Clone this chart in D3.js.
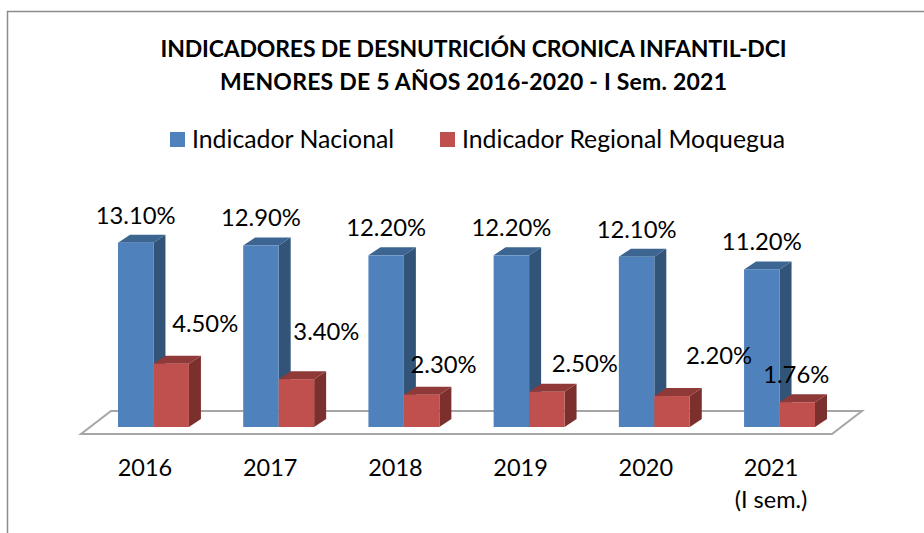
<!DOCTYPE html>
<html>
<head>
<meta charset="utf-8">
<script src="https://cdn.jsdelivr.net/npm/d3@7"></script>
<style>
  html, body { margin: 0; padding: 0; background: #fff; }
  svg { display: block; font-family: Lato, sans-serif; fill: #000; }
</style>
</head>
<body>
<svg id="chart" width="924" height="533"></svg>
<script>
const years = ['2016', '2017', '2018', '2019', '2020', '2021'];
const seriesNames = ['Indicador Nacional', 'Indicador Regional Moquegua'];
const nacional = [13.1, 12.9, 12.2, 12.2, 12.1, 11.2];
const regional = [4.5, 3.4, 2.3, 2.5, 2.2, 1.76];
const titleLines = ['INDICADORES DE DESNUTRICIÓN CRONICA INFANTIL-DCI', 'MENORES DE 5 AÑOS 2016-2020 - I Sem. 2021'];

const w = 924;
const h = 533;
const depth = { x: 12, y: 8 };
const colors = [
  { front: '#4f81bd', side: '#325479', top: '#3d6591' },
  { front: '#c0504d', side: '#7c302e', top: '#8f3a38' }
];
// hand placed labels, the original chart has them dragged around
const labelNudge = [
  [[0, 0], [34, 0]],
  [[0, 0], [30, -7]],
  [[0, 0], [22, 10]],
  [[0, 0], [38, 12]],
  [[0, 0], [47, 0]],
  [[0, 0], [-1, 13]]
];
const titleWidths = [626, 507];

const svg = d3.select('#chart');

const x = d3.scaleBand().domain(years).range([118, 815]).paddingInner(0.4335);
const xInner = d3.scaleBand().domain([0, 1]).range([0, x.bandwidth()]);
const y = d3.scaleLinear().domain([0, 14]).range([427, 230]);

// frame, only left and top edges show in the crop
svg.append('path')
  .attr('d', `M7.5,${h} V11.5 H${w}`)
  .attr('fill', 'none')
  .attr('stroke', '#8c8c8c')
  .attr('stroke-width', 1.5);

// title
svg.append('g').selectAll('text')
  .data(titleLines)
  .join('text')
  .attr('x', 473.5)
  .attr('y', (_, i) => 57 + i * 33)
  .attr('text-anchor', 'middle')
  .attr('font-size', 23)
  .attr('font-weight', 700)
  .attr('textLength', (_, i) => titleWidths[i])
  .attr('lengthAdjust', 'spacing')
  .text(d => d);

// legend
const legendX = [170, 440];
const legend = svg.append('g').selectAll('g')
  .data(seriesNames)
  .join('g')
  .attr('transform', (_, i) => `translate(${legendX[i]}, 132)`);
legend.append('rect')
  .attr('width', 15)
  .attr('height', 15)
  .attr('fill', (_, i) => colors[i].front);
legend.append('text')
  .attr('x', 22)
  .attr('y', 16)
  .attr('font-size', 24.8)
  .text(d => d);

// floor
const floorL = x.range()[0] - 37;
const floorR = x.range()[1] + 17;
svg.append('path')
  .attr('d', `M${floorL},434 H${floorR} L${floorR + 30},411 H${floorL + 30} Z`)
  .attr('fill', '#fff')
  .attr('stroke', '#a6a6a6')
  .attr('stroke-width', 2);

// bars, blue first so the red one sits in front of its side
const groups = svg.append('g').selectAll('g')
  .data(years)
  .join('g')
  .attr('transform', d => `translate(${x(d)}, 0)`);

[nacional, regional].forEach((values, s) => {
  const bw = xInner.bandwidth();
  const bar = groups.append('g').attr('transform', `translate(${xInner(s)}, 0)`);
  bar.append('polygon')
    .attr('fill', colors[s].side)
    .attr('points', (_, i) => {
      const t = y(values[i]);
      return `${bw},${t} ${bw + depth.x},${t - depth.y} ${bw + depth.x},${y(0) - depth.y} ${bw},${y(0)}`;
    });
  bar.append('polygon')
    .attr('fill', colors[s].top)
    .attr('points', (_, i) => {
      const t = y(values[i]);
      return `0,${t} ${depth.x},${t - depth.y} ${bw + depth.x},${t - depth.y} ${bw},${t}`;
    });
  bar.append('rect')
    .attr('y', (_, i) => y(values[i]))
    .attr('width', bw)
    .attr('height', (_, i) => y(0) - y(values[i]))
    .attr('fill', colors[s].front);
});

// value labels go on top of everything
[nacional, regional].forEach((values, s) => {
  svg.append('g').selectAll('text')
    .data(values)
    .join('text')
    .attr('x', (_, i) => x(years[i]) + xInner(s) + xInner.bandwidth() / 2 + labelNudge[i][s][0])
    .attr('y', (d, i) => y(d) - (s === 0 ? 19 : 32) + labelNudge[i][s][1])
    .attr('text-anchor', 'middle')
    .attr('font-size', 23.8)
    .text(d => d.toFixed(2) + '%');
});

// axis, labels sit a bit left of the band centre because of the 3d skew
const xAxis = d3.axisBottom(x).tickSize(0).tickPadding(0);
const axisG = svg.append('g')
  .attr('transform', 'translate(-8.5, 459)')
  .call(xAxis);
axisG.select('.domain').remove();
axisG.selectAll('text')
  .attr('font-family', 'Lato, sans-serif')
  .attr('font-size', 23.5)
  .attr('fill', '#000');
axisG.selectAll('.tick')
  .filter(d => d === '2021')
  .append('text')
  .attr('y', 32)
  .attr('dy', '0.71em')
  .attr('text-anchor', 'middle')
  .attr('font-family', 'Lato, sans-serif')
  .attr('font-size', 23.5)
  .attr('fill', '#000')
  .text('(I sem.)');
</script>
</body>
</html>
